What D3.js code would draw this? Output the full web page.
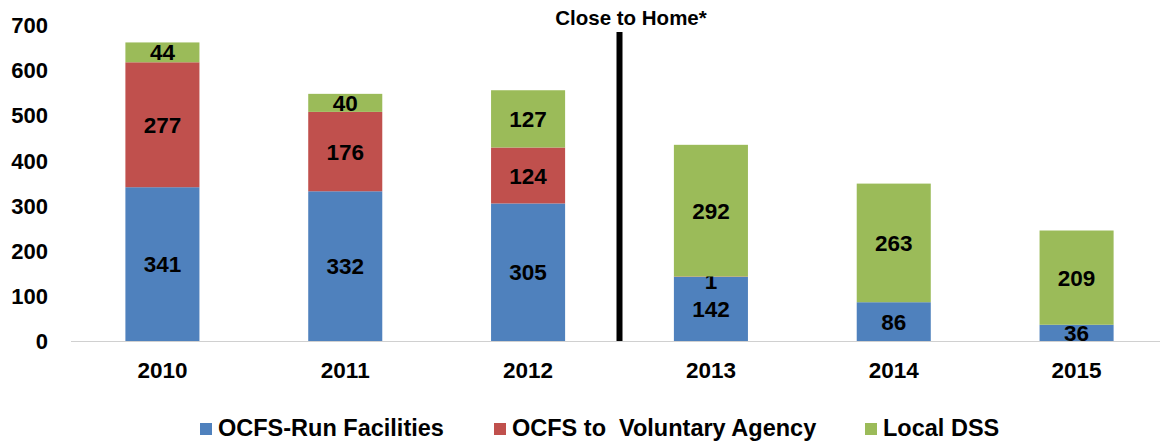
<!DOCTYPE html>
<html><head><meta charset="utf-8">
<script src="https://cdn.jsdelivr.net/npm/d3@7"></script>
<style>body{margin:0;background:#fff}text{font-family:"Liberation Sans",Arial,sans-serif;font-weight:bold}</style>
</head><body><svg id="c" width="1163" height="443"></svg>
<script>
const years = ["2010","2011","2012","2013","2014","2015"];
const ocfsRun = [341,332,305,142,86,36];
const voluntary = [277,176,124,1,0,0];
const localDSS = [44,40,127,292,263,209];
const seriesNames = ["OCFS-Run Facilities","OCFS to  Voluntary Agency","Local DSS"];
const colors = ["#4F81BD","#C0504D","#9BBB59"];
const yTicks = [0,100,200,300,400,500,600,700];

const svg = d3.select("#c");
const x0 = 71, x1 = 1168, yTop = 25.3, yBot = 341;
const x = d3.scaleBand().domain(years).range([x0,x1]).paddingInner(0.595).paddingOuter(0.2975);
const y = d3.scaleLinear().domain([0,700]).range([yBot,yTop]);

const rows = years.map((yr,i)=>({year:yr, s0:ocfsRun[i], s1:voluntary[i], s2:localDSS[i]}));
const stack = d3.stack().keys(["s0","s1","s2"])(rows);

// axis line
svg.append("line").attr("x1",x0).attr("x2",1160).attr("y1",yBot+0.5).attr("y2",yBot+0.5).attr("stroke","#d0d0d0").attr("stroke-width",1.2);

const g = svg.append("g");
stack.forEach((layer,k)=>{
  g.selectAll(null).data(layer.filter(d=>d[1]-d[0]>0)).enter().append("rect")
    .attr("x",d=>x(d.data.year)).attr("width",x.bandwidth())
    .attr("y",d=>y(d[1])).attr("height",d=>y(d[0])-y(d[1]))
    .attr("fill",colors[k]);
  g.selectAll(null).data(layer.filter(d=>d[1]-d[0]>0)).enter().append("text")
    .attr("x",d=>x(d.data.year)+x.bandwidth()/2)
    .attr("y",d=>(y(d[0])+y(d[1]))/2 + (d[1]-d[0]<5 ? 4 : 0))
    .attr("dy","0.36em").attr("text-anchor","middle").attr("font-size",22.5).attr("fill","#000")
    .text(d=>d[1]-d[0]);
});

// y axis labels
svg.append("g").selectAll("text").data(yTicks).enter().append("text")
  .attr("x",48).attr("y",d=>y(d)).attr("dy","0.36em").attr("text-anchor","end")
  .attr("font-size",22).text(d=>d);

// x labels
svg.append("g").selectAll("text").data(years).enter().append("text")
  .attr("x",d=>x(d)+x.bandwidth()/2).attr("y",378).attr("text-anchor","middle")
  .attr("font-size",22.5).text(d=>d);

// divider
const divX = (x("2012")+x.bandwidth() + x("2013"))/2;
svg.append("rect").attr("x",divX-3).attr("y",32).attr("width",6).attr("height",yBot-32).attr("fill","#000");
svg.append("text").attr("x",631).attr("y",18).attr("dy","0.36em").attr("text-anchor","middle").attr("font-size",20.5).text("Close to Home*");

// legend
const legX = [200,494,865];
const lg = svg.append("g");
seriesNames.forEach((n,i)=>{
  lg.append("rect").attr("x",legX[i]).attr("y",423).attr("width",12).attr("height",12).attr("fill",colors[i]);
  lg.append("text").attr("x",legX[i]+18).attr("y",436).attr("font-size",23.5)
    .style("white-space","pre").attr("xml:space","preserve").text(n);
});
</script></body></html>
